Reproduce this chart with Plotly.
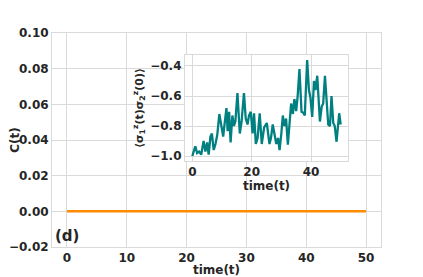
import plotly.graph_objects as go

# Main series: C(t) (flat at zero)
time_main = [0, 50]
c_values = [0.0, 0.0]

# Inset series: <sigma_1^z(t) sigma_2^z(0)>
time_inset = [0, 1.0, 1.6, 2.3, 3.0, 3.8, 4.4, 5.0, 5.5, 6.1,
              6.6, 7.2, 7.8, 8.4, 9.1, 9.6, 10.4, 10.9, 11.5, 11.9,
              12.4, 12.9, 13.5, 14.0, 14.5, 15.2, 16.0, 16.6, 17.4, 18.0,
              18.6, 19.1, 19.7, 20.3, 20.8, 21.4, 22.0, 22.7, 23.4, 24.2,
              25.1, 26.0, 26.5, 27.1, 27.7, 28.3, 28.9, 29.4, 30.0, 30.5,
              31.0, 31.6, 32.2, 32.7, 33.3, 33.9, 34.4, 35.0, 35.5, 36.1,
              36.8, 37.3, 37.9, 38.7, 39.3, 39.8, 40.4, 41.0, 41.5, 42.1,
              42.6, 43.0, 43.6, 44.1, 44.7, 45.3, 45.8, 46.4, 46.9, 47.5,
              48.0, 48.6, 49.1, 49.5, 50.0]
corr_values = [-1.0, -0.935, -0.98, -0.97, -0.99, -0.90, -0.97, -0.91, -0.99, -0.87,
               -0.85, -0.96, -0.92, -0.86, -0.72, -0.78, -0.87, -0.78, -0.68, -0.835,
               -0.705, -0.91, -0.73, -0.80, -0.77, -0.58, -0.85, -0.77, -0.58, -0.75,
               -0.79, -0.73, -0.705, -0.85, -0.715, -0.92, -0.88, -0.715, -0.92, -0.81,
               -0.78, -0.92, -0.88, -0.79, -0.85, -0.92, -0.88, -0.96, -0.85, -0.73,
               -0.80, -0.75, -0.925, -0.77, -0.65, -0.72, -0.62, -0.70, -0.60, -0.42,
               -0.705, -0.71, -0.73, -0.36, -0.56, -0.61, -0.74, -0.50, -0.56, -0.465,
               -0.65, -0.77, -0.67, -0.65, -0.465, -0.65, -0.79, -0.80, -0.60, -0.78,
               -0.80, -0.905, -0.79, -0.715, -0.79]

main_xticks = [0, 10, 20, 30, 40, 50]
main_yticks = [-0.02, 0.00, 0.02, 0.04, 0.06, 0.08, 0.10]
inset_xticks = [0, 20, 40]
inset_yticks = [-1.0, -0.8, -0.6, -0.4]

GRID = "#dadada"
TXT = "#262626"
FONT = "DejaVu Sans"
tickfont = dict(family=FONT, size=12, color=TXT, weight="bold")
titlefont = dict(family=FONT, size=12, color=TXT, weight="bold")

fig = go.Figure()
fig.add_trace(go.Scatter(x=time_main, y=c_values, mode="lines",
                         line=dict(color="#ff8c00", width=2.5),
                         xaxis="x", yaxis="y", showlegend=False))
fig.add_trace(go.Scatter(x=time_inset, y=corr_values, mode="lines",
                         line=dict(color="#008080", width=2.3),
                         xaxis="x2", yaxis="y2", showlegend=False))

axis_common = dict(showgrid=True, gridcolor=GRID, gridwidth=1, zeroline=False,
                   showline=True, linecolor=GRID, linewidth=1, mirror=True,
                   ticks="", tickfont=tickfont, automargin=False)

# The page body has an 8px default margin, so the figure is sized to fit the
# remaining part of the 423x277 window.
fig.update_layout(
    width=415, height=269,
    margin=dict(l=44, r=42, t=25, b=30),
    paper_bgcolor="white", plot_bgcolor="white",
    showlegend=False,
    xaxis=dict(domain=[0, 1], range=[-2.5, 52.5], tickvals=main_xticks,
               title=dict(text="time(t)", font=titlefont, standoff=0),
               anchor="y", **axis_common),
    yaxis=dict(domain=[0, 1], range=[-0.02, 0.10], tickvals=main_yticks,
               tickformat=".2f",
               title=dict(text="C(t)", font=titlefont, standoff=6),
               anchor="x", **axis_common),
    xaxis2=dict(domain=[0.404, 0.900], range=[-2.5, 52.5], tickvals=inset_xticks,
                title=dict(text="time(t)", font=titlefont, standoff=0),
                anchor="y2", **axis_common),
    yaxis2=dict(domain=[0.402, 0.897], range=[-1.033, -0.327], tickvals=inset_yticks,
                tickformat=".1f",
                title=dict(text="⟨σ<sub>1</sub><sup>z</sup>(t)σ<sub>2</sub><sup>z</sup>(0)⟩",
                           font=dict(family=FONT, size=11, color=TXT, weight="bold"),
                           standoff=4),
                anchor="x2", **axis_common),
    annotations=[dict(text="(d)", xref="paper", yref="paper", x=0.003, y=0.051,
                      xanchor="left", yanchor="middle", showarrow=False,
                      font=dict(family=FONT, size=15, color=TXT, weight="bold"))],
)

fig.write_html("out.html")
